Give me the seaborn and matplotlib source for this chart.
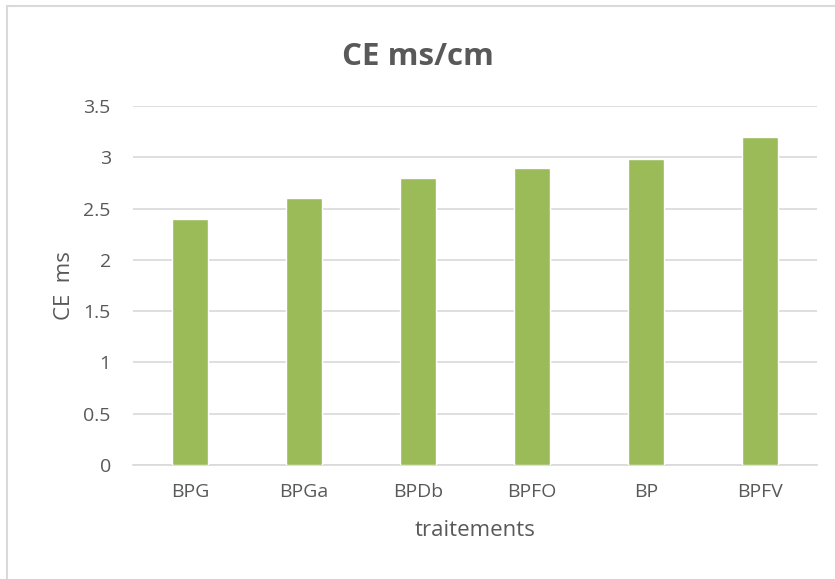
import matplotlib
matplotlib.use("Agg")
import matplotlib.pyplot as plt
import matplotlib.patches as mpatches
import seaborn as sns
import pandas as pd

treatments = ["BPG", "BPGa", "BPDb", "BPFO", "BP", "BPFV"]
ce_values = [2.4, 2.6, 2.8, 2.9, 2.98, 3.2]
y_ticks = [0, 0.5, 1, 1.5, 2, 2.5, 3, 3.5]
y_tick_labels = ["0", "0.5", "1", "1.5", "2", "2.5", "3", "3.5"]

sns.set_theme(style="white")
plt.rcParams["font.family"] = ["Open Sans", "DejaVu Sans"]

df = pd.DataFrame({"traitements": treatments, "CE": ce_values})

fig = plt.figure(figsize=(8.35, 5.79), dpi=100)
ax = fig.add_axes([133 / 835, 1 - 465 / 579, 684 / 835, 359 / 579])

sns.barplot(data=df, x="traitements", y="CE", color="#9BBB59", width=0.316,
            saturation=1, ax=ax, zorder=3)

text_col = "#595959"
grid_col = "#D9D9D9"

ax.set_ylim(0, 3.5)
ax.set_xlim(-0.5, len(treatments) - 0.5)
ax.set_yticks(y_ticks)
ax.set_yticklabels(y_tick_labels)
ax.yaxis.grid(True, color=grid_col, linewidth=1.2, zorder=0)
ax.set_axisbelow(True)
for side in ["top", "right", "left"]:
    ax.spines[side].set_visible(False)
ax.spines["bottom"].set_color(grid_col)
ax.spines["bottom"].set_linewidth(1.2)
ax.tick_params(axis="y", length=0, pad=16, labelsize=14, labelcolor=text_col)
ax.tick_params(axis="x", length=0, pad=13, labelsize=14, labelcolor=text_col)

ax.set_xlabel("traitements", fontsize=16, color=text_col, labelpad=14)
ax.set_ylabel("CE  ms", fontsize=16, color=text_col, labelpad=6)

fig.text(0.5, 1 - 57 / 579, "CE ms/cm", ha="center", va="center",
         fontsize=22.5, fontweight="bold", color=text_col)

# outer chart frame (top and left edges visible)
frame = mpatches.Rectangle((6.5 / 835, -0.1), 1.2, 1 - 6.5 / 579 + 0.1,
                           transform=fig.transFigure, fill=False,
                           edgecolor="#D9D9D9", linewidth=1.5)
fig.patches.append(frame)

fig.savefig("out.png", dpi=100)
